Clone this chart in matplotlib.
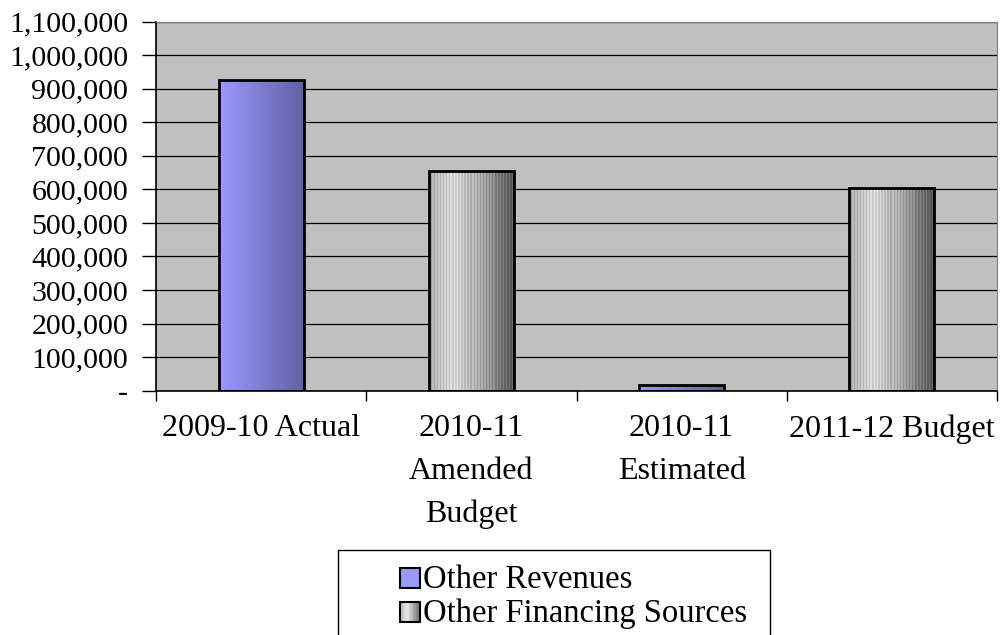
import numpy as np
import matplotlib.pyplot as plt
from matplotlib.patches import Rectangle
from matplotlib.legend_handler import HandlerBase
from matplotlib.ticker import FuncFormatter, FixedLocator

categories = ["2009-10 Actual", "2010-11\nAmended\nBudget", "2010-11\nEstimated", "2011-12 Budget"]
other_revenues = [925000, 0, 16000, 0]
other_financing = [0, 655000, 0, 605000]
series_names = ["Other Revenues", "Other Financing Sources"]

plt.rcParams['font.family'] = ['Liberation Serif', 'DejaVu Serif']

W, H = 1003, 635
fig = plt.figure(figsize=(W / 100, H / 100), dpi=100)
ax = fig.add_axes([156 / W, 1 - 390.7 / H, (997 - 156) / W, (390.7 - 21.5) / H])
ax.set_facecolor('#C0C0C0')

blue_grad = np.linspace(0, 1, 64)
blue_left = np.array([0.60, 0.60, 1.00])
blue_right = np.array([0.38, 0.38, 0.64])
blue_img = (blue_left[None, :] * (1 - blue_grad[:, None]) + blue_right[None, :] * blue_grad[:, None])[None, :, :]

ncols = 56
t = np.linspace(0, 1, ncols)
base = np.interp(t, [0, 0.3, 1], [0.66, 0.86, 0.36])
stripe = np.where(np.arange(ncols) % 2 == 0, 0.05, -0.05)
gray = np.clip(base + stripe, 0, 1)
gray_img = np.repeat(gray[None, :, None], 3, axis=2)

bw = 0.405
x = np.arange(len(categories))


def draw_bars(values, img):
    for xi, v in zip(x, values):
        if v <= 0:
            continue
        b = ax.bar(xi, v, width=bw, facecolor='none', edgecolor='black', linewidth=2, zorder=3)[0]
        im = ax.imshow(img, extent=[xi - bw / 2, xi + bw / 2, 0, v], aspect='auto',
                       interpolation='nearest', zorder=2)
        im.set_clip_path(b)


draw_bars(other_revenues, blue_img)
draw_bars(other_financing, gray_img)

ax.set_xlim(-0.5, len(categories) - 0.5)
ax.set_ylim(0, 1100000)
ax.set_yticks(np.arange(0, 1100001, 100000))
ax.yaxis.set_major_formatter(FuncFormatter(lambda v, p: "-" if v == 0 else f"{int(v):,}"))
ax.grid(axis='y', color='black', linewidth=0.9, zorder=1)
ax.set_axisbelow(True)

ax.xaxis.set_major_locator(FixedLocator(np.arange(-0.5, len(categories), 1.0)))
ax.xaxis.set_major_formatter(FuncFormatter(lambda v, p: ""))
ax.xaxis.set_minor_locator(FixedLocator(x))
ax.set_xticklabels(categories, minor=True)
ax.tick_params(axis='x', which='minor', length=0, pad=17, labelsize=23)
ax.tick_params(axis='x', which='major', length=7, width=1, direction='out')
ax.tick_params(axis='y', length=10, width=1, direction='out', pad=10, labelsize=21.5)
for lab in ax.get_xticklabels(minor=True):
    lab.set_linespacing(1.6)

for s in ['top', 'right']:
    ax.spines[s].set_color('#808080')
for s in ['left', 'bottom']:
    ax.spines[s].set_color('black')
    ax.spines[s].set_linewidth(1.2)


class GradHandler(HandlerBase):
    def __init__(self, img):
        super().__init__()
        self.img = img

    def create_artists(self, legend, orig, xd, yd, width, height, fontsize, trans):
        side = min(width, height)
        x0, y0 = xd + 0, yd + (height - side) / 2
        cols = self.img[0]
        n = len(cols)
        arts = []
        for i, c in enumerate(cols):
            arts.append(Rectangle((x0 + side * i / n, y0), side / n + 0.01, side,
                                  facecolor=c, edgecolor='none', transform=trans))
        arts.append(Rectangle((x0, y0), side, side, facecolor='none',
                              edgecolor='black', linewidth=1.5, transform=trans))
        return arts


h1 = Rectangle((0, 0), 1, 1)
h2 = Rectangle((0, 0), 1, 1)
leg_blue = np.array([[[0.60, 0.60, 1.00]] * 4])
fig.legend([h1, h2], series_names, loc='upper left',
           bbox_to_anchor=(400 / W, 1 - 564 / H), frameon=False, fontsize=23.5,
           handler_map={h1: GradHandler(leg_blue), h2: GradHandler(gray_img[:, ::4])},
           handlelength=0.62, handleheight=0.62, handletextpad=0.1, labelspacing=0.12,
           borderpad=0, borderaxespad=0)
fig.patches.append(Rectangle((338 / W, -0.05), (770 - 338) / W, 0.05 + 1 - 550 / H,
                             transform=fig.transFigure, facecolor='none',
                             edgecolor='black', linewidth=1))

fig.savefig("out.png", dpi=100)
